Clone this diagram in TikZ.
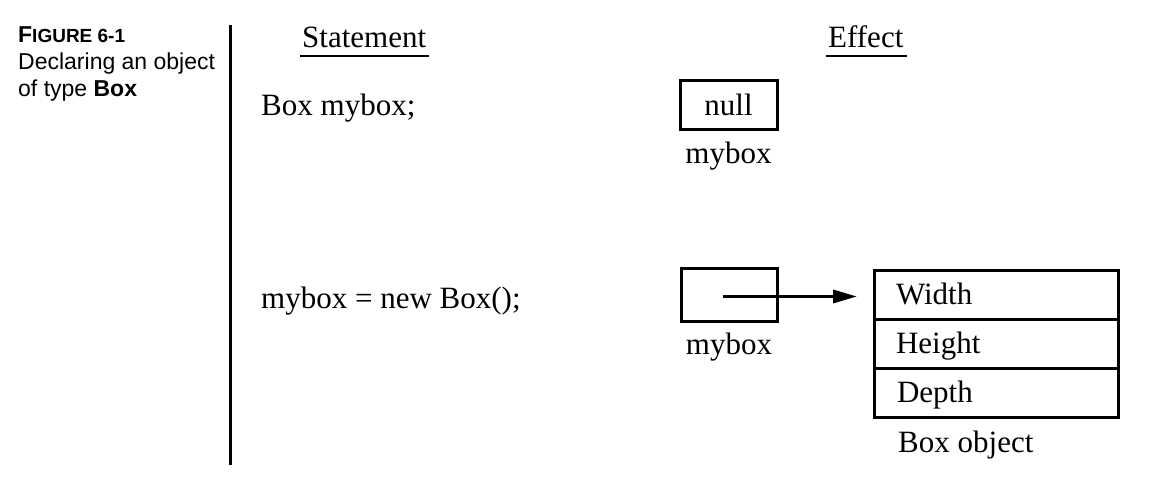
\documentclass[tikz,border=0pt]{standalone}
\usepackage{fontspec}
\setmainfont{Liberation Serif}
\newfontfamily\capfont{Liberation Sans}
\usepackage{tikz}
\usetikzlibrary{positioning,arrows.meta}
\tikzset{
  rule/.style={line width=3pt, draw=black},
  stmt/.style={anchor=base west, inner sep=0pt, font=\fontsize{31}{36}\selectfont},
  cell/.style={draw=black, line width=3pt, inner sep=0pt, outer sep=0pt, font=\fontsize{31}{36}\selectfont},
  field/.style={draw=black, line width=3pt, minimum height=49pt, text width=200pt,
    text height=24pt, text depth=4pt,
    inner xsep=22pt, inner ysep=0pt, outer sep=0pt, align=left, font=\fontsize{31}{36}\selectfont},
  pointer/.style={line width=3.5pt, draw=black, -{Triangle[length=24pt,width=13pt]}}
}
\begin{document}
\begin{tikzpicture}[x=1pt, y=-1pt]
    \useasboundingbox (0,0) rectangle (1155,484);
    % caption
    \node[anchor=north west, inner sep=0pt, align=left, font=\capfont\fontsize{23}{27}\selectfont]
      (caption) at (18,26) {\textbf{F{\fontsize{19}{27}\selectfont IGURE 6-1}}\\Declaring an object\\of type \textbf{Box}};
    \draw[rule] (230,25) -- (230,465);
    % headings
    \node[stmt] (stmthead) at (302,48) {Statement};
    \node[stmt] (effhead) at (828,48) {Effect};
    \draw[line width=2.5pt] ([xshift=-2pt,yshift=-8pt]stmthead.base west) -- ([xshift=3pt,yshift=-8pt]stmthead.base east);
    \draw[line width=2.5pt] ([xshift=-2pt,yshift=-8pt]effhead.base west) -- ([xshift=3pt,yshift=-8pt]effhead.base east);
    % Box mybox;
    \node[stmt] (decl) at (261,115) {Box mybox;};
    \node[cell, minimum width=97pt, minimum height=48pt] (nullbox) at (728.5,105) {null};
    \node[stmt, anchor=north] (nulllabel) at ([yshift=-13pt]nullbox.south) {mybox};
    % mybox = new Box();
    \node[stmt] (alloc) at (261,308) {mybox = new Box();};
    \node[cell, minimum width=96pt, minimum height=53pt] (ptrbox) at (729,294.5) {};
    \node[stmt, anchor=north] (ptrlabel) at ([yshift=-12pt]ptrbox.south) {mybox};
    \node[coordinate] (ptr) at (723,296.5) {};
    %
    \node[field] (wfield) at (996,294.5) {Width};
    \node[field, below=0pt of wfield] (hfield) {Height};
    \node[field, below=0pt of hfield, text width=198pt, inner xsep=23pt] (dfield) {Depth};
    \node[stmt] (objlabel) at (898,452) {Box object};
    %
    \draw[pointer, shorten >=17pt] (ptr) -- (ptr -| wfield.west);
  \end{tikzpicture}
\end{document}
